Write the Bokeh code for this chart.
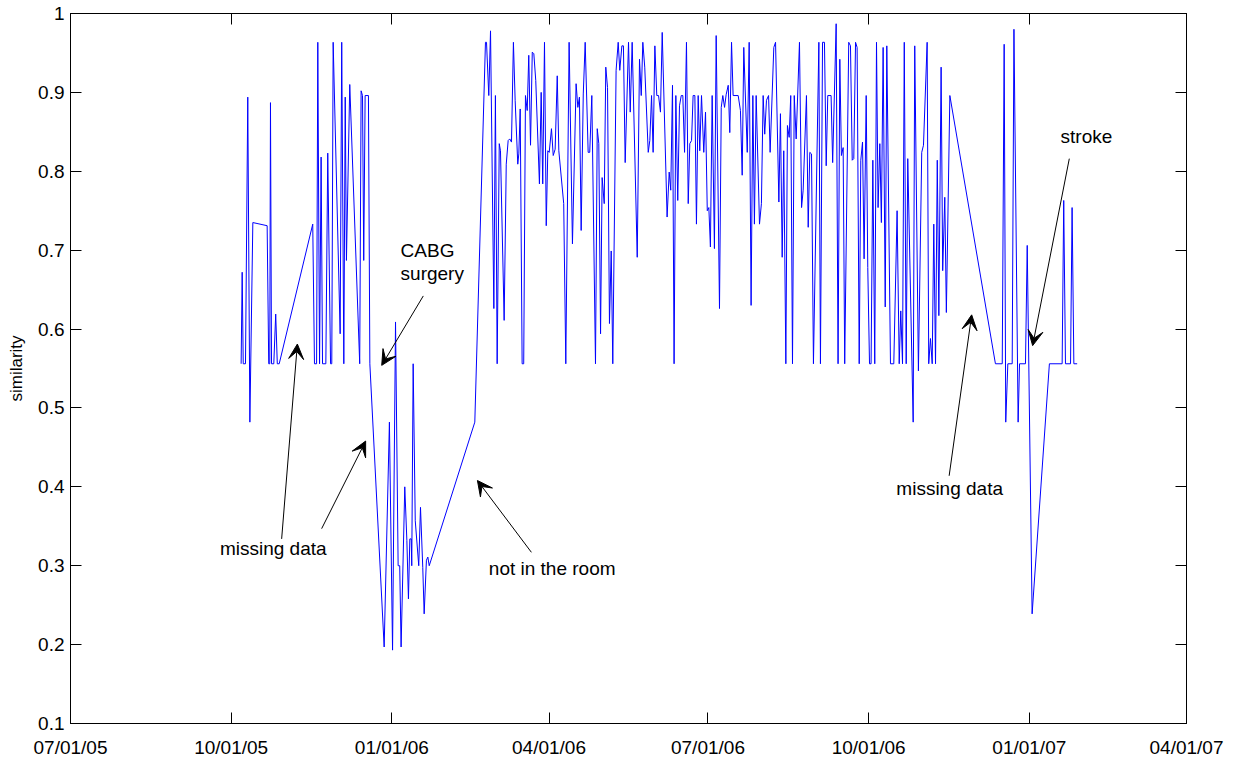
import pandas as pd
from bokeh.plotting import figure
from bokeh.models import (DatetimeAxis, LinearAxis, FixedTicker, Range1d, Arrow,
                          VeeHead, Label, ColumnDataSource)
from bokeh.embed import file_html
from bokeh.resources import INLINE

# ---------------- data ----------------
start_date = "2005-07-01"
end_date = "2007-04-01"

# days since 2005-07-01
days = [
    97.7, 98.3, 98.9, 100.2, 101.5, 102.7, 104.4, 112.6, 113.5, 114.1, 114.5, 115.1,
    116.4, 117.5, 118.4, 119.5, 138.7, 139.7, 140.9, 141.6, 142.6, 143.5, 144.3, 146.2,
    147.3, 148.9, 149.6, 150.4, 154.4, 155.3, 156.5, 157.3, 158.0, 159.9, 165.6, 166.4,
    167.2, 167.9, 168.7, 170.6, 171.4, 179.6, 182.6, 184.4, 186.1, 187.6, 188.5, 189.3,
    191.4, 192.6, 193.5, 194.3, 195.1, 195.4, 196.2, 197.4, 199.4, 200.4, 201.7, 202.5,
    203.8, 204.6, 205.4, 231.5,
    237.6, 238.2, 239.5, 240.5, 242.4, 243.3, 244.3, 245.5, 246.2, 248.3, 249.5, 250.6,
    251.5, 252.5, 253.6, 254.6, 256.1, 256.7, 257.5, 258.6, 259.5, 260.5, 261.5, 262.4,
    263.4, 264.4, 265.3, 266.4, 268.5, 269.5, 270.4, 271.4, 272.4, 273.3, 274.1, 275.4,
    276.4, 277.5, 278.7, 279.6, 282.4, 283.6, 285.5, 287.4, 289.5, 290.5, 291.4, 292.4,
    293.6, 294.7, 296.4, 297.3, 298.5, 300.6, 301.6, 302.5, 303.5, 304.4, 305.6, 306.5,
    307.5, 308.6, 309.6, 310.5, 312.4, 313.6, 314.5, 315.7, 316.6, 317.6, 319.5, 320.5,
    321.6, 324.5, 325.8, 326.8, 327.7, 328.8, 330.8, 331.7, 332.7, 333.6, 334.6, 335.7,
    336.7, 337.8, 338.8, 341.6, 342.8, 343.7, 344.7, 345.6, 346.6, 347.7, 348.7, 349.7,
    350.6, 351.6, 352.7, 353.7, 354.6, 355.6, 356.5, 357.5, 358.4, 359.4, 360.3, 361.3,
    362.6, 363.6, 364.6, 365.5, 366.4, 367.4, 368.7, 369.7, 371.6,
    372.6, 373.5, 374.5, 375.4, 376.6, 377.5, 378.5, 379.4, 382.3, 383.6, 384.6, 385.5,
    387.5, 388.6, 389.7, 390.7, 391.6, 392.6, 394.5, 395.6, 396.6, 397.5, 398.5, 399.7,
    400.6, 402.7, 403.7, 405.6, 406.5, 407.5, 408.4, 409.6, 410.5, 411.5, 412.4, 413.4,
    414.4, 415.5, 417.4, 418.6, 419.5, 421.4, 422.4, 423.3, 424.3, 425.4, 428.5, 429.4,
    430.6, 431.7, 432.7, 433.6, 435.5, 436.4, 438.4, 439.5, 440.5, 441.4, 442.4, 443.3,
    445.6, 446.6, 447.6, 448.5, 449.5, 450.4, 451.6, 452.5, 453.5, 454.4, 455.6, 456.5,
    457.5, 458.4, 459.4, 460.5, 461.5, 462.4, 463.4, 464.3, 465.3, 466.5, 467.4, 469.5,
    471.4, 473.3, 474.5, 475.4, 476.4, 477.4, 478.5, 479.4, 482.5, 483.4, 485.5, 487.4,
    488.4, 490.5, 491.4, 492.4, 493.4, 494.3, 495.3, 496.3, 497.2, 498.5, 499.4, 500.6,
    501.5, 503.5,
    529.6, 533.5, 534.6, 535.5, 536.7, 539.2, 540.2, 542.6, 543.4, 546.8, 547.8, 550.6,
    560.5, 567.8, 568.7, 569.7, 572.6, 573.5, 574.5, 576.4,
]

similarity = [
    0.556, 0.672, 0.556, 0.556, 0.894, 0.482, 0.735, 0.731, 0.556, 0.556, 0.887, 0.556,
    0.556, 0.619, 0.556, 0.556, 0.733, 0.556, 0.556, 0.9635, 0.556, 0.818, 0.556, 0.556,
    0.823, 0.556, 0.556, 0.9635, 0.594, 0.9635, 0.556, 0.894, 0.687, 0.910, 0.556, 0.902,
    0.896, 0.687, 0.896, 0.896, 0.556, 0.197, 0.482, 0.193, 0.609, 0.300, 0.300, 0.197,
    0.400, 0.332, 0.258, 0.334, 0.334, 0.300, 0.556, 0.357, 0.300, 0.374, 0.298, 0.239,
    0.307, 0.311, 0.300, 0.482,
    0.9635, 0.9635, 0.896, 0.978, 0.626, 0.896, 0.556, 0.835, 0.826, 0.611, 0.809, 0.839,
    0.841, 0.837, 0.9635, 0.890, 0.809, 0.822, 0.879, 0.556, 0.556, 0.896, 0.877, 0.947,
    0.833, 0.951, 0.949, 0.915, 0.784, 0.900, 0.784, 0.9635, 0.731, 0.826, 0.824, 0.854,
    0.820, 0.828, 0.921, 0.826, 0.759, 0.556, 0.9635, 0.708, 0.911, 0.881, 0.894, 0.725,
    0.898, 0.9635, 0.824, 0.824, 0.896, 0.556, 0.854, 0.835, 0.594, 0.792, 0.759, 0.932,
    0.906, 0.607, 0.699, 0.556, 0.928, 0.9635, 0.928, 0.959, 0.959, 0.811, 0.9635, 0.875,
    0.9635, 0.691, 0.942, 0.896, 0.9635, 0.932, 0.824, 0.839, 0.896, 0.824, 0.959, 0.896,
    0.896, 0.875, 0.976, 0.742, 0.799, 0.776, 0.909, 0.556, 0.896, 0.763, 0.883, 0.896,
    0.896, 0.824, 0.9635, 0.759, 0.835, 0.839, 0.896, 0.896, 0.733, 0.896, 0.826, 0.896,
    0.824, 0.875, 0.750, 0.754, 0.704, 0.896, 0.702, 0.972, 0.626,
    0.881, 0.896, 0.881, 0.897, 0.909, 0.849, 0.9635, 0.896, 0.896, 0.877, 0.795, 0.957,
    0.824, 0.9635, 0.630, 0.896, 0.733, 0.896, 0.733, 0.759, 0.896, 0.847, 0.890, 0.896,
    0.824, 0.957, 0.9635, 0.761, 0.873, 0.691, 0.826, 0.556, 0.858, 0.843, 0.896, 0.556,
    0.896, 0.841, 0.9635, 0.754, 0.776, 0.896, 0.729, 0.824, 0.822, 0.556, 0.9635, 0.556,
    0.9635, 0.9635, 0.807, 0.896, 0.896, 0.811, 0.987, 0.556, 0.942, 0.820, 0.830, 0.556,
    0.9635, 0.959, 0.814, 0.816, 0.9635, 0.957, 0.556, 0.814, 0.837, 0.689, 0.896, 0.678,
    0.556, 0.556, 0.814, 0.556, 0.9635, 0.754, 0.835, 0.735, 0.957, 0.628, 0.959, 0.556,
    0.556, 0.750, 0.556, 0.623, 0.556, 0.9635, 0.556, 0.816, 0.482, 0.959, 0.547, 0.824,
    0.833, 0.9635, 0.556, 0.588, 0.556, 0.733, 0.556, 0.814, 0.617, 0.932, 0.674, 0.767,
    0.621, 0.896,
    0.556, 0.556, 0.961, 0.482, 0.556, 0.556, 0.980, 0.482, 0.556, 0.556, 0.706, 0.239,
    0.556, 0.556, 0.763, 0.556, 0.556, 0.754, 0.556, 0.556,
]

x_tick_dates = ["2005-07-01", "2005-10-01", "2006-01-01", "2006-04-01",
                "2006-07-01", "2006-10-01", "2007-01-01", "2007-04-01"]
x_tick_labels = ["07/01/05", "10/01/05", "01/01/06", "04/01/06",
                 "07/01/06", "10/01/06", "01/01/07", "04/01/07"]
y_ticks = [0.1, 0.2, 0.3, 0.4, 0.5, 0.6, 0.7, 0.8, 0.9, 1.0]
y_tick_labels = ["0.1", "0.2", "0.3", "0.4", "0.5", "0.6", "0.7", "0.8", "0.9", "1"]

# annotations (days since start, similarity)
ann_texts = ["missing data", "CABG", "surgery", "not in the room", "missing data", "stroke"]
ann_days = [116.1, 189.0, 189.0, 275.8, 503.4, 581.7]
ann_vals = [0.322, 0.699, 0.670, 0.296, 0.398, 0.844]
ann_align = ["center", "left", "left", "center", "center", "center"]

arrow_start_days = [120.9, 143.8, 202.0, 263.9, 503.1, 571.9]
arrow_start_vals = [0.334, 0.347, 0.642, 0.317, 0.414, 0.816]
arrow_end_days = [129.9, 169.0, 178.2, 233.0, 516.0, 550.9]
arrow_end_vals = [0.581, 0.458, 0.554, 0.408, 0.618, 0.579]

# ---------------- helpers ----------------
t0 = pd.Timestamp(start_date)


def day_ms(d):
    return (t0 + pd.Timedelta(days=d)).value / 1e6


def date_ms(s):
    return pd.Timestamp(s).value // 10**6


x_dates = t0 + pd.to_timedelta(days, unit="D")
x_ticks_ms = [date_ms(s) for s in x_tick_dates]

FONT = "Liberation Sans"

p = figure(width=1235, height=761, x_axis_type="datetime",
           x_range=Range1d(date_ms(start_date), date_ms(end_date)),
           y_range=Range1d(0.1, 1.0),
           output_backend="svg", toolbar_location=None,
           min_border_left=70, min_border_right=49,
           min_border_top=13, min_border_bottom=38)
p.background_fill_color = "white"
p.border_fill_color = "white"
p.outline_line_color = "black"
p.outline_line_width = 1
p.xgrid.grid_line_color = None
p.ygrid.grid_line_color = None

src = ColumnDataSource(dict(x=x_dates, y=similarity))
p.line("x", "y", source=src, line_color="#0000ff", line_width=1)

# bottom axis
xa = p.xaxis[0]
xa.ticker = FixedTicker(ticks=x_ticks_ms)
xa.major_label_overrides = dict(zip(x_ticks_ms, x_tick_labels))
xa.major_tick_in = 11
xa.major_tick_out = 0
xa.minor_tick_in = 0
xa.minor_tick_out = 0
xa.axis_line_color = "black"
xa.major_tick_line_color = "black"
xa.major_label_text_font = FONT
xa.major_label_text_font_size = "19px"
xa.major_label_text_color = "black"
xa.major_label_standoff = 13

# left axis
ya = p.yaxis[0]
ya.ticker = FixedTicker(ticks=y_ticks)
ya.major_label_overrides = dict(zip(y_ticks, y_tick_labels))
ya.major_tick_in = 11
ya.major_tick_out = 0
ya.minor_tick_in = 0
ya.minor_tick_out = 0
ya.axis_line_color = "black"
ya.major_tick_line_color = "black"
ya.major_label_text_font = FONT
ya.major_label_text_font_size = "19px"
ya.major_label_text_color = "black"
ya.major_label_standoff = 6
ya.axis_label = "similarity"
ya.axis_label_text_font = FONT
ya.axis_label_text_font_size = "17px"
ya.axis_label_text_font_style = "normal"
ya.axis_label_text_color = "black"
ya.axis_label_standoff = 9

# top and right axes: inward ticks only (box)
top = DatetimeAxis(ticker=FixedTicker(ticks=x_ticks_ms),
                   major_label_overrides={t: "" for t in x_ticks_ms},
                   major_label_text_font_size="0px", major_label_standoff=0,
                   major_tick_in=11, major_tick_out=0, minor_tick_in=0, minor_tick_out=0,
                   axis_line_color="black", major_tick_line_color="black")
p.add_layout(top, "above")
right = LinearAxis(ticker=FixedTicker(ticks=y_ticks),
                   major_label_overrides={t: "" for t in y_ticks},
                   major_label_text_font_size="0px", major_label_standoff=0,
                   major_tick_in=11, major_tick_out=0, minor_tick_in=0, minor_tick_out=0,
                   axis_line_color="black", major_tick_line_color="black")
p.add_layout(right, "right")

# annotations
for t, d, v, a in zip(ann_texts, ann_days, ann_vals, ann_align):
    p.add_layout(Label(x=day_ms(d), y=v, text=t, text_font=FONT,
                       text_font_size="19px", text_color="black",
                       text_align=a, text_baseline="middle"))

arr_src = ColumnDataSource(dict(
    xs=[day_ms(d) for d in arrow_start_days], ys=arrow_start_vals,
    xe=[day_ms(d) for d in arrow_end_days], ye=arrow_end_vals))
p.add_layout(Arrow(source=arr_src, x_start="xs", y_start="ys", x_end="xe", y_end="ye",
                   line_color="black", line_width=1,
                   end=VeeHead(size=15, fill_color="black", line_color="black",
                               line_width=1)))

open("out.html", "w").write(file_html(p, INLINE))
